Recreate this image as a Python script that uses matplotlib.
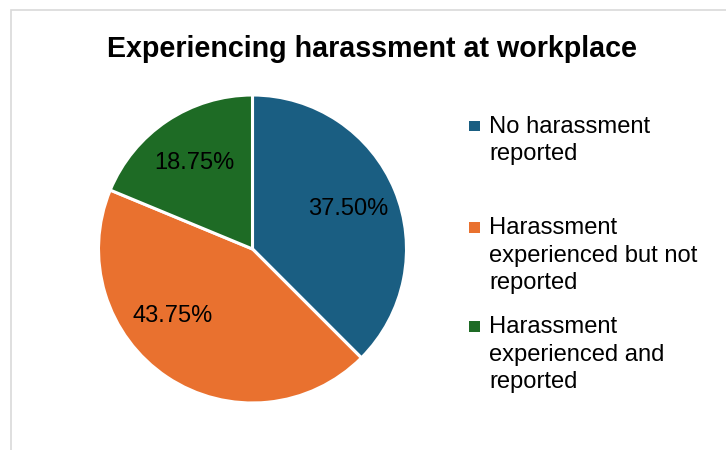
import matplotlib
matplotlib.use("Agg")
import matplotlib.pyplot as plt
from matplotlib.patches import Rectangle
import numpy as np

plt.rcParams['font.family'] = ['Liberation Sans', 'DejaVu Sans']

categories = ["No harassment\nreported",
              "Harassment\nexperienced but not\nreported",
              "Harassment\nexperienced and\nreported"]
values = [37.50, 43.75, 18.75]
colors = ["#1a5e82", "#e9712f", "#1e6b25"]
title = "Experiencing harassment at workplace"

W, H = 726, 450
fig = plt.figure(figsize=(W/100, H/100), dpi=100)

# chart border (light gray)
fig.add_artist(Rectangle((11/W, -0.1), 1.2, (H-10)/H + 0.1, transform=fig.transFigure,
                         fill=False, edgecolor="#d9d9d9", linewidth=1.2))

cx, cy, r = 252.5, 249, 154
ax = fig.add_axes([(cx-r)/W, (H-cy-r)/H, 2*r/W, 2*r/H])
wedges, texts, autotexts = ax.pie(values, colors=colors, startangle=90, counterclock=False,
                                  autopct=lambda p: f"{p:.2f}%", pctdistance=0.675,
                                  wedgeprops=dict(edgecolor="white", linewidth=2.2),
                                  textprops=dict(fontsize=17, color="black"))
ax.set_xlim(-1, 1)
ax.set_ylim(-1, 1)
ax.set_aspect('equal')
# Excel-style best-fit position for the large slice label
ang = np.deg2rad(-140)
autotexts[1].set_position((0.68*np.cos(ang), 0.68*np.sin(ang)))

fig.text(372/W, 1 - 56.7/H, title, ha='center', va='baseline', fontsize=20.6, fontweight='bold')

# legend (last-line baselines)
last_baselines = [160, 289, 388]
for lab, col, yb in zip(categories, colors, last_baselines):
    n = lab.count("\n")
    first = yb - n*27.3
    fig.add_artist(Rectangle((468.5/W, 1 - (first - 1.5)/H), 11/W, 10.5/H, transform=fig.transFigure,
                             facecolor=col, edgecolor='none'))
    fig.text(489/W, 1 - yb/H, lab, ha='left', va='baseline', fontsize=17.1, linespacing=1.32)

fig.savefig("out.png", dpi=100)
